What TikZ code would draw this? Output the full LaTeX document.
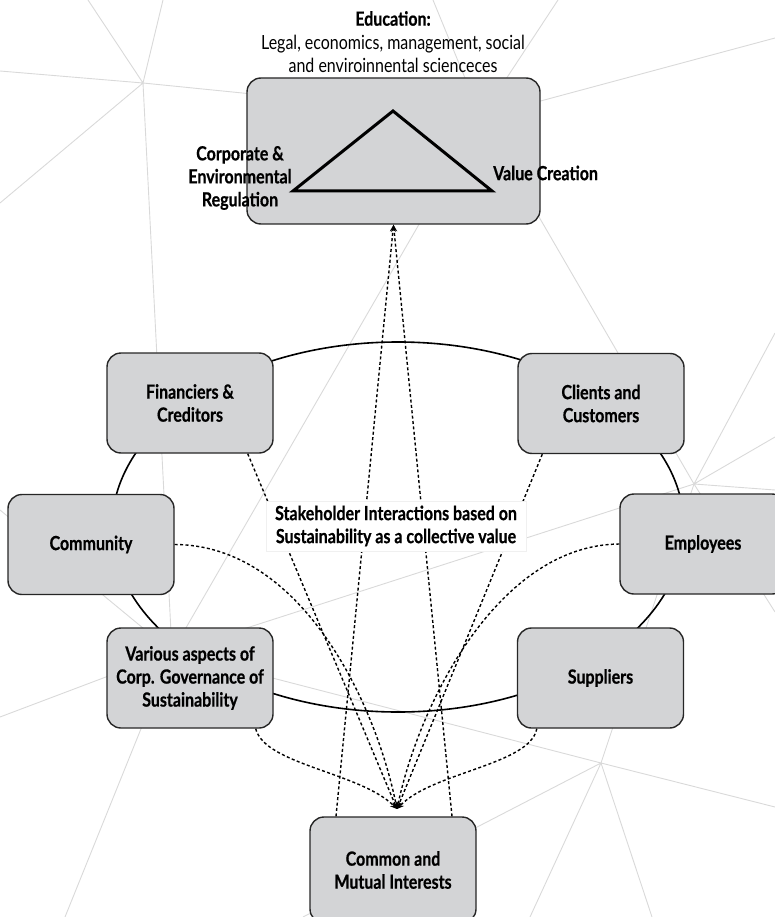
\documentclass[tikz,border=0pt]{standalone}
\usepackage{fontspec}
\setmainfont{Lato}[FakeStretch=0.82, BoldFeatures={FakeBold=0.6}]
\usetikzlibrary{calc,arrows.meta}
\definecolor{boxfill}{RGB}{211,212,214}
\definecolor{webgray}{RGB}{217,217,217}
\begin{document}
\begin{tikzpicture}[x=1pt,y=-1pt,
  stake/.style={draw=black!85, line width=1.4pt, fill=boxfill, rounded corners=14pt,
    minimum width=166pt, minimum height=100pt, align=center, inner sep=0pt,
    font=\fontsize{19.5}{23}\selectfont\bfseries},
  web/.style={draw=webgray, line width=0.9pt},
  link/.style={line width=1.4pt, dash pattern=on 3pt off 2.4pt,
    -{Stealth[length=7pt,width=6pt]}},
  ring/.style={line width=1.6pt},
  bold/.style={font=\fontsize{19.5}{23}\selectfont\bfseries, inner sep=0pt},
]
\useasboundingbox (0,0) rectangle (775,917);
\clip (0,0) rectangle (775,917);

% background web of thin lines
\coordinate (h1) at (143,83);
\coordinate (h2) at (172,652);
\coordinate (h3) at (601,763);
\coordinate (h4) at (694,484);
\coordinate (h5) at (481,117);
\draw[web] (h1) -- (0,71)  (h1) -- (88,0)  (h1) -- (163,0)  (h1) -- (0,203)
           (h1) -- (h2)  (h1) -- (h5);
\draw[web] (h2) -- (0,510)  (h2) -- (0,717)  (h2) -- (65,917)
           (h2) -- (h3)  (h2) -- (h4)  (h2) -- (h5);
\draw[web] (h3) -- (775,807)  (h3) -- (303,917)  (h3) -- (530,917)  (h3) -- (652,917)
           (h3) -- (h4);
\draw[web] (h4) -- (775,333)  (h4) -- (775,437)  (h4) -- (775,490)  (h4) -- (775,612)
           (h4) -- (h5);
\draw[web] (h5) -- (433,0)  (h5) -- (558,0)  (h5) -- (775,38);

% ring linking the stakeholders
\draw[ring] (398,527) ellipse [x radius=286, y radius=185];

% education box with the triangle
\node[stake, minimum width=293pt, minimum height=146pt] (edu) at (393.5,151) {};
\coordinate (apex) at (393,111);
\coordinate (tl) at (293,191);
\coordinate (tr) at (492,191);
\draw[line width=3pt] (apex) -- (tr) -- (tl) -- cycle;
\node[bold, align=center] (reg) at (240,178) {Corporate \&\\Environmental\\Regulation};
\node[bold, anchor=west] (val) at (493,173) {Value Creation};
\node[align=center, inner sep=0pt, font=\fontsize{19.5}{23.5}\selectfont] (head) at (393,42)
  {\textbf{Education:}\\Legal, economics, management, social\\and enviroinnental scienceces};

% stakeholders
\node[stake] (fin) at (190,403) {Financiers \&\\Creditors};
\node[stake] (cli) at (601,403.5) {Clients and\\Customers};
\node[stake] (com) at (91,544.5) {Community};
\node[stake] (emp) at (703,544) {Employees};
\node[stake] (var) at (190,678) {Various aspects of\\Corp. Governance of\\Sustainability};
\node[stake] (sup) at (600.5,678) {Suppliers};
\node[stake, minimum height=106pt] (cmi) at (393,870) {Common and\\Mutual Interests};

% dotted interactions
\coordinate (meet) at (397,809);
\draw[link] ($(fin.south east)+(-26,0)$) -- (meet);
\draw[link] ($(cli.south west)+(25,0)$) -- (meet);
\draw[link] (com.east) .. controls (300,545) and (375,700) .. (meet);
\draw[link] (emp.west) .. controls (500,545) and (420,700) .. (meet);
\draw[link] ($(var.south east)+(-18,0)$) .. controls (265,765) and (360,772) .. (meet);
\draw[link] ($(sup.south west)+(20,0)$) .. controls (530,765) and (432,772) .. (meet);
\draw[link] ($(cmi.north)+(-57,0)$) -- (edu.south);
\draw[link] ($(cmi.north)+(59,0)$) -- (edu.south);

% central caption
\node[bold, fill=white, draw=black!6, line width=0.6pt, align=center,
      minimum width=260pt, minimum height=50pt] (label) at (396,526)
  {Stakeholder Interactions based on\\Sustainability as a collective value};
\end{tikzpicture}
\end{document}
